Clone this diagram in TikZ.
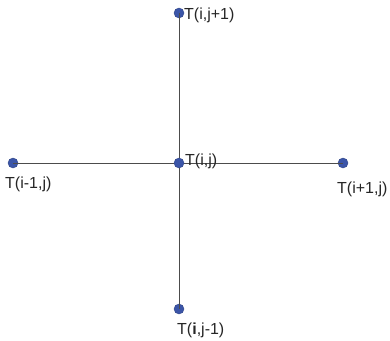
\documentclass[tikz,border=0pt]{standalone}
\usepackage{fontspec}
\setmainfont{Liberation Sans}
\begin{document}
\begin{tikzpicture}[x=1pt,y=-1pt,
  dot/.style={circle,fill=dotblue,draw=dotblue!80!black,line width=0.4pt,minimum size=10pt,inner sep=0pt},
  lbl/.style={anchor=base west,inner sep=0pt,font=\fontsize{16}{16}\selectfont,text=black!85},
  edge/.style={draw=black!70,line width=1pt}]
\definecolor{dotblue}{HTML}{3B55A8}
\useasboundingbox (0,0) rectangle (390,340);
\coordinate (c) at (179,163);
\node[dot] (t) at (179,13) {};
\node[dot] (l) at (13,163) {};
\node[dot] (r) at (343,163) {};
\node[dot] (b) at (179,309) {};
\draw[edge] (l.center) -- (r.center);
\draw[edge] (t.center) -- (b.center);
\node[dot] (cc) at (c) {};
\node[lbl] (lt) at (184,19) {T(i,j+1)};
\node[lbl] (ll) at (5,188) {T(i-1,j)};
\node[lbl] (lc) at (185,165) {T(i,j)};
\node[lbl] (lr) at (337,193) {T(i+1,j)};
\node[lbl] (lb) at (177,334) {T(\textbf{i},j-1)};
\end{tikzpicture}
\end{document}
